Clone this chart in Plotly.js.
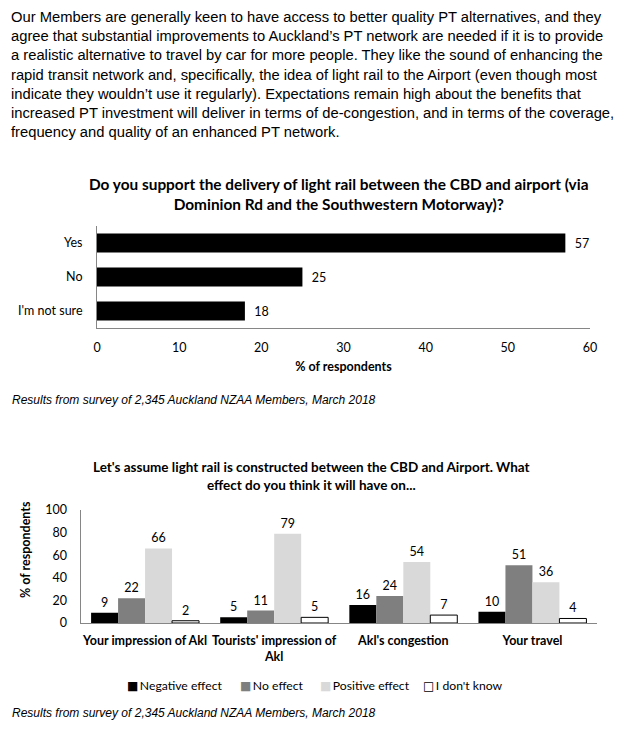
<!DOCTYPE html>
<html><head><meta charset="utf-8">
<script src="https://cdn.plot.ly/plotly-3.0.1.min.js"></script>
<style>html,body{margin:0;padding:0;background:#fff}#chart{width:623px;height:734px}</style>
</head><body><div id="chart"></div>
<script>
const paragraphLines = [
  "Our Members are generally keen to have access to better quality PT alternatives, and they",
  "agree that substantial improvements to Auckland\u2019s PT network are needed if it is to provide",
  "a realistic alternative to travel by car for more people. They like the sound of enhancing the",
  "rapid transit network and, specifically, the idea of light rail to the Airport (even though most",
  "indicate they wouldn\u2019t use it regularly). Expectations remain high about the benefits that",
  "increased PT investment will deliver in terms of de-congestion, and in terms of the coverage,",
  "frequency and quality of an enhanced PT network."
];
const chart1Title = "Do you support the delivery of light rail between the CBD and airport (via<br>Dominion Rd and the Southwestern Motorway)?";
const chart2Title = "Let's assume light rail is constructed between the CBD and Airport. What<br>effect do you think it will have on...";
const captionText = "Results from survey of 2,345 Auckland NZAA Members, March 2018";
const axisTitle = "% of respondents";

const supportCategories = ["Yes", "No", "I'm not sure"];
const supportValues = [57, 25, 18];
const xTicks1 = [0, 10, 20, 30, 40, 50, 60];

const effectCategories = ["Your impression of Akl", "Tourists' impression of Akl", "Akl's congestion", "Your travel"];
const effectTickLabels = ["Your impression of Akl", "Tourists' impression of<br>Akl", "Akl's congestion", "Your travel"];
const seriesNames = ["Negative effect", "No effect", "Positive effect", "I don't know"];
const negativeValues = [9, 5, 16, 10];
const noEffectValues = [22, 11, 24, 51];
const positiveValues = [66, 79, 54, 36];
const dontKnowValues = [2, 5, 7, 4];
const yTicks2 = [0, 20, 40, 60, 80, 100];

const W = 623, H = 734;
const px = x => x / W;
const py = y => 1 - y / H;
const CF = "Lato, 'Noto Sans', sans-serif";
const AF = "'Liberation Sans', Arial, sans-serif";
const axisGray = "#868686";

const seriesData = [negativeValues, noEffectValues, positiveValues, dontKnowValues];
const seriesColors = ["#000000", "#7f7f7f", "#d9d9d9", "#ffffff"];
const seriesLines = [0, 0, 0, 1];
const legendSymbols = ["\u25A0", "\u25A0", "\u25A0", "\u25A1"];
const legendSymbolColors = ["#000000", "#7f7f7f", "#d9d9d9", "#000000"];
const legendX = [125, 238, 318, 421];

const NB = "\u00a0\u00a0";

const traces = [{
  type: "bar", orientation: "h",
  x: supportValues, y: supportCategories,
  xaxis: "x", yaxis: "y",
  width: 0.56,
  marker: {color: "#000000", line: {width: 0}},
  text: supportValues.map(v => NB + v), textposition: "outside",
  textfont: {family: CF, size: 12.5, color: "#000"},
  cliponaxis: false, showlegend: false, hoverinfo: "skip"
}];
seriesNames.forEach((name, i) => {
  traces.push({
    type: "bar", name: name,
    x: effectCategories, y: seriesData[i],
    xaxis: "x2", yaxis: "y2",
    marker: {color: seriesColors[i], line: {color: "#000000", width: seriesLines[i]}},
    text: seriesData[i].map(String), textposition: "outside",
    textfont: {family: CF, size: 12.5, color: "#000"},
    cliponaxis: false, hoverinfo: "skip", showlegend: false
  });
});

const annotations = [
  {xref: "paper", yref: "paper", x: px(9), y: py(7), xanchor: "left", yanchor: "top",
   align: "left", showarrow: false, text: paragraphLines.join("<br>"),
   font: {family: AF, size: 14.75, color: "#000"}},
  {xref: "paper", yref: "paper", x: px(338), y: py(194), xanchor: "center", yanchor: "middle",
   align: "center", showarrow: false, text: "<b>" + chart1Title + "</b>",
   font: {family: CF, size: 15.4, color: "#000"}},
  {xref: "paper", yref: "paper", x: px(10), y: py(400), xanchor: "left", yanchor: "middle",
   align: "left", showarrow: false, text: "<i>" + captionText + "</i>",
   font: {family: AF, size: 12, color: "#000"}},
  {xref: "paper", yref: "paper", x: px(311.5), y: py(475.5), xanchor: "center", yanchor: "middle",
   align: "center", showarrow: false, text: "<b>" + chart2Title + "</b>",
   font: {family: CF, size: 13.5, color: "#000"}},
  {xref: "paper", yref: "paper", x: px(25), y: py(550), xanchor: "center", yanchor: "middle",
   textangle: -90, showarrow: false, text: "<b>" + axisTitle + "</b>",
   font: {family: CF, size: 12.5, color: "#000"}},
  {xref: "paper", yref: "paper", x: px(10), y: py(713), xanchor: "left", yanchor: "middle",
   align: "left", showarrow: false, text: "<i>" + captionText + "</i>",
   font: {family: AF, size: 12, color: "#000"}}
];
seriesNames.forEach((name, i) => {
  annotations.push({
    xref: "paper", yref: "paper", x: px(legendX[i]), y: py(685), xanchor: "left", yanchor: "middle",
    showarrow: false, align: "left",
    text: '<span style="color:' + legendSymbolColors[i] + ';font-family:DejaVu Sans;font-size:12px">' + legendSymbols[i] + '</span>\u2009' + name,
    font: {family: CF, size: 12.2, color: "#000"}
  });
});

const layout = {
  width: W, height: H,
  margin: {l: 0, r: 0, t: 0, b: 0},
  paper_bgcolor: "#fff", plot_bgcolor: "rgba(0,0,0,0)",
  barmode: "group", bargap: 0.164, bargroupgap: 0,
  font: {family: CF, color: "#000", size: 12.5},
  showlegend: false,
  xaxis: {
    domain: [px(97), px(590)], anchor: "y",
    range: [0, 60], tickvals: xTicks1, showgrid: false, zeroline: false,
    showline: true, linecolor: axisGray, linewidth: 1,
    ticks: "outside", ticklen: 8, tickcolor: "rgba(0,0,0,0)",
    tickfont: {family: CF, size: 12.5},
    title: {text: "<b>" + axisTitle + "</b>", font: {family: CF, size: 12.5}, standoff: 8},
    automargin: false, fixedrange: true
  },
  yaxis: {
    domain: [py(328), py(226)], anchor: "x",
    type: "category", categoryarray: supportCategories, autorange: "reversed",
    showgrid: false, zeroline: false,
    showline: true, linecolor: axisGray, linewidth: 1,
    ticks: "outside", ticklen: 11, tickcolor: "rgba(0,0,0,0)",
    tickfont: {family: CF, size: 12.5},
    automargin: false, fixedrange: true
  },
  xaxis2: {
    domain: [px(80.5), px(597)], anchor: "y2",
    type: "category", categoryarray: effectCategories,
    tickvals: effectCategories, ticktext: effectTickLabels,
    showgrid: false, zeroline: false,
    showline: true, linecolor: axisGray, linewidth: 1,
    ticks: "outside", ticklen: 6, tickcolor: "rgba(0,0,0,0)",
    tickfont: {family: CF, size: 12.5, weight: "bold"},
    automargin: false, fixedrange: true
  },
  yaxis2: {
    domain: [py(623), py(510)], anchor: "x2",
    range: [0, 100], tickvals: yTicks2, showgrid: false, zeroline: false,
    showline: true, linecolor: axisGray, linewidth: 1,
    ticks: "outside", ticklen: 10, tickcolor: "rgba(0,0,0,0)",
    tickfont: {family: CF, size: 12.5},
    automargin: false, fixedrange: true
  },
  annotations: annotations
};

Plotly.newPlot("chart", traces, layout, {staticPlot: true, displayModeBar: false});
</script>
</body></html>
